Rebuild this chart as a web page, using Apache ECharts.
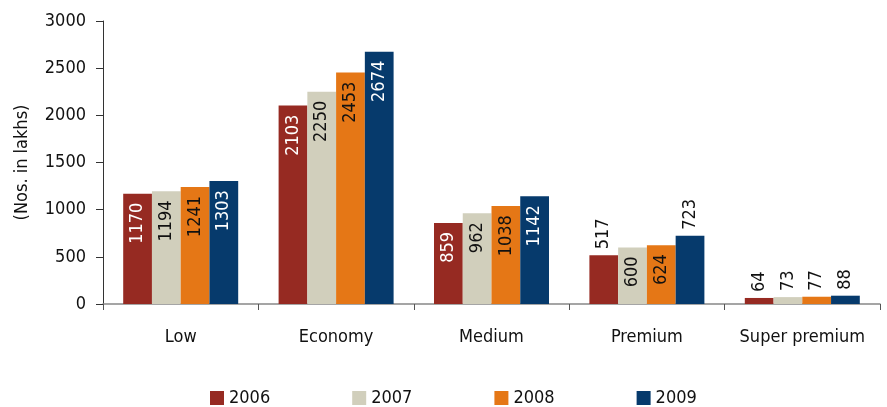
<!DOCTYPE html>
<html>
<head>
<meta charset="utf-8">
<script src="https://cdn.jsdelivr.net/npm/echarts@6/dist/echarts.min.js"></script>
<style>
  html, body { margin: 0; padding: 0; background: #fff; }
  #chart { width: 887px; height: 407px; }
</style>
</head>
<body>
<div id="chart"></div>
<script>
// Segments and yearly counts (Nos. in lakhs)
const categories = ['Low', 'Economy', 'Medium', 'Premium', 'Super premium'];
const years = ['2006', '2007', '2008', '2009'];
const values2006 = [1170, 2103, 859, 517, 64];
const values2007 = [1194, 2250, 962, 600, 73];
const values2008 = [1241, 2453, 1038, 624, 77];
const values2009 = [1303, 2674, 1142, 723, 88];
const yTicks = [0, 500, 1000, 1500, 2000, 2500, 3000];

// Labels sitting above the bar instead of inside it
const outsideLabels = {
  '2006': [false, false, false, true, true],
  '2007': [false, false, false, false, true],
  '2008': [false, false, false, false, true],
  '2009': [false, false, false, true, true]
};

const colors = ['#962A22', '#D1CFBC', '#E57716', '#063A6C'];
const labelColors = ['#ffffff', '#111111', '#111111', '#ffffff'];
const FONT = '"Liberation Sans Narrow", "DejaVu Sans Condensed", "Roboto", sans-serif';

const seriesValues = [values2006, values2007, values2008, values2009];

function buildSeries(i) {
  const yr = years[i];
  return {
    name: yr,
    type: 'bar',
    barGap: '0%',
    barCategoryGap: '26%',
    itemStyle: { color: colors[i] },
    data: seriesValues[i].map((v, j) => {
      const outside = outsideLabels[yr][j];
      return {
        value: v,
        label: outside ? {
          show: true, position: 'top', rotate: 90, align: 'left', verticalAlign: 'middle',
          distance: 6, color: '#111111'
        } : {
          show: true, position: 'insideTop', rotate: 90, align: 'right', verticalAlign: 'middle',
          distance: 9, color: labelColors[i]
        }
      };
    }),
    label: { fontFamily: FONT, fontSize: 18 }
  };
}

const chart = echarts.init(document.getElementById('chart'), null, { renderer: 'canvas' });
chart.setOption({
  animation: false,
  color: colors,
  textStyle: { fontFamily: FONT },
  grid: { left: 103, right: 7, top: 21, bottom: 103 },
  legend: {
    bottom: 0,
    left: 205,
    padding: [5, 5, 0, 5],
    itemWidth: 14,
    itemHeight: 14,
    itemGap: 82,
    icon: 'rect',
    textStyle: { fontFamily: FONT, fontSize: 18, color: '#111' },
    data: years
  },
  xAxis: {
    type: 'category',
    data: categories,
    axisLine: { lineStyle: { color: '#888', width: 1.5 } },
    axisTick: { show: true, length: 6, lineStyle: { color: '#555' } },
    axisLabel: { interval: 0, fontFamily: FONT, fontSize: 18, color: '#111', margin: 24 }
  },
  yAxis: {
    type: 'value',
    min: yTicks[0],
    max: yTicks[yTicks.length - 1],
    interval: yTicks[1] - yTicks[0],
    name: '(Nos. in lakhs)',
    nameLocation: 'middle',
    nameGap: 72,
    nameTextStyle: { fontFamily: FONT, fontSize: 18, color: '#111' },
    axisLine: { show: true, lineStyle: { color: '#333' } },
    axisTick: { show: true, length: 7, lineStyle: { color: '#333' } },
    splitLine: { show: false },
    axisLabel: { fontFamily: FONT, fontSize: 18, color: '#111', margin: 17, formatter: v => String(v) }
  },
  series: [0, 1, 2, 3].map(buildSeries)
});
</script>
</body>
</html>
